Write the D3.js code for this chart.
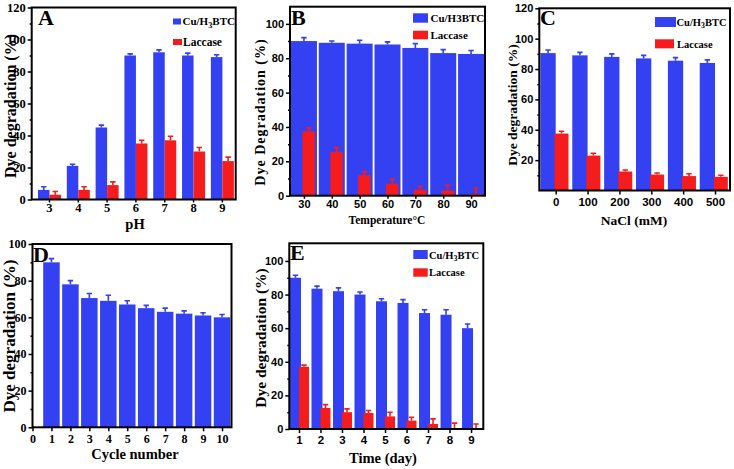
<!DOCTYPE html>
<html><head><meta charset="utf-8">
<script src="https://cdn.jsdelivr.net/npm/d3@7"></script>
<style>body{margin:0;background:#fff}svg{display:block}</style>
</head><body><svg id="c" width="734" height="469"></svg>
<script>
// ---- data ----
const phCats = [3,4,5,6,7,8,9];
const phCu = [6,21,45,90,92,90,89];
const phCuErr = [2,1,1.5,1,1.5,1.5,1.5];
const phLac = [3,6,9,35,37,30,24];
const phLacErr = [2,2,2,2,2.5,2.5,2.5];

const tempCats = [30,40,50,60,70,80,90];
const tempCu = [90,89,88.5,88,86,83,82.5];
const tempCuErr = [2,1,2,1.5,2.5,2,2];
const tempLac = [37.5,25.5,12,7,3.5,3,1];
const tempLacErr = [2,2.5,2,2.5,2,3,3.5];

const naclCats = [0,100,200,300,400,500];
const naclCu = [90.5,89,88,87,85.5,84];
const naclCuErr = [2,2,2,2,2,2];
const naclLac = [37.5,23,12.5,10.5,9.5,9];
const naclLacErr = [1.5,1.5,1,1,1.5,1];

const cycleCats = [1,2,3,4,5,6,7,8,9,10];
const cycleTicks = [0,1,2,3,4,5,6,7,8,9,10];
const cycleCu = [90,78,70.5,69,67,65,63,62,61,60];
const cycleCuErr = [2,2,2.5,3,2,1.5,2,1.5,1.5,1.5];

const dayCats = [1,2,3,4,5,6,7,8,9];
const dayCu = [90,83.5,82,80,76,75,69,68,60];
const dayCuErr = [1.5,1.5,2,1.5,1.5,2,2,3,2.5];
const dayLac = [37,12.5,10,9.5,7.5,5,3,0.5,0.5];
const dayLacErr = [1,2,2,1.5,2.5,2,3,3,2.5];

const yTicks120 = [0,20,40,60,80,100,120];
const yTicks120NoZero = [20,40,60,80,100,120];
const yTicks100 = [0,20,40,60,80,100];
const yMinor120 = [10,30,50,70,90,110];
const yMinor100 = [10,30,50,70,90];

const BLUE = "#3341f2", RED = "#f41c1c";
const SERIF = "'Liberation Serif','Times New Roman',serif";
const SANS = "'Liberation Sans',Arial,sans-serif";
const svg = d3.select("#c");

function panel(o){
  const g = svg.append("g");
  const x = d3.scaleLinear().domain(o.xDom).range([o.l,o.r]);
  const y = d3.scaleLinear().domain(o.yDom).range([o.b,o.t]);
  o.series.forEach(s=>{
    const data = o.cats.map((c,i)=>({c, v:s.vals[i], e:s.errs[i]}));
    const sg = g.append("g");
    sg.selectAll("rect").data(data).join("rect")
      .attr("x", d=>x(d.c)+s.dx).attr("width", s.w)
      .attr("y", d=>y(d.v)).attr("height", d=>y(0)-y(d.v))
      .attr("fill", s.color);
    sg.selectAll("path").data(data).join("path")
      .attr("d", d=>{const cx=x(d.c)+s.dx+s.w/2, y0=y(d.v), y1=y(d.v+d.e);
        return `M${cx},${y0}V${y1}M${cx-2.7},${y1}H${cx+2.7}`;})
      .attr("stroke", s.color).attr("stroke-width",1.6).attr("fill","none");
  });
  // axes
  const ya = g.append("g").attr("transform",`translate(${o.l},0)`)
    .call(d3.axisLeft(y).tickValues(o.yTicks).tickSize(4).tickPadding(2));
  const ym = g.append("g").attr("transform",`translate(${o.l},0)`)
    .call(d3.axisLeft(y).tickValues(o.yMinor).tickSize(2).tickFormat(""));
  const xa = g.append("g").attr("transform",`translate(0,${o.b})`)
    .call(d3.axisBottom(x).tickValues(o.xTicks).tickSize(o.xTickLen||4).tickPadding(o.xTickPad||3));
  [ya,ym,xa].forEach(a=>{
    a.select(".domain").remove();
    a.selectAll("line").attr("stroke","#000").attr("stroke-width",1.5);
  });
  ya.selectAll("text").attr("font-family",o.tickFont).attr("font-weight","bold")
    .attr("font-size",o.yTickSize).attr("fill","#000");
  xa.selectAll("text").attr("font-family",o.tickFont).attr("font-weight","bold")
    .attr("font-size",o.xTickSize).attr("fill","#000");
  // frame
  g.append("rect").attr("x",o.l).attr("y",o.t).attr("width",o.r-o.l).attr("height",o.b-o.t)
    .attr("fill","none").attr("stroke","#000").attr("stroke-width",2);
  // titles
  g.append("text").attr("transform",`translate(${o.ytx},${o.yty}) rotate(-90)`)
    .attr("text-anchor","middle").attr("dominant-baseline","central")
    .attr("font-family",SERIF).attr("font-weight","bold").attr("font-size",o.ytSize)
    .attr("letter-spacing",o.ytSpacing||0).text(o.yTitle);
  g.append("text").attr("x",o.xtx).attr("y",o.xty).attr("text-anchor","middle")
    .attr("font-family",SERIF).attr("font-weight","bold").attr("font-size",o.xtSize).text(o.xTitle);
  // letter
  g.append("text").attr("x",o.lx).attr("y",o.ly).attr("font-family",SERIF)
    .attr("font-weight","bold").attr("font-size",22).text(o.letter);
  // legend
  (o.legend||[]).forEach(it=>{
    g.append("rect").attr("x",it.rx).attr("y",it.ry).attr("width",it.rw).attr("height",it.rh).attr("fill",it.color);
    const t = g.append("text").attr("x",it.tx).attr("y",it.ty).attr("font-family",SERIF)
      .attr("font-weight","bold").attr("font-size",it.size);
    if(it.sub){
      t.append("tspan").text("Cu/H");
      t.append("tspan").attr("dy",it.sub).attr("font-size",it.size*0.75).text("3");
      t.append("tspan").attr("dy",-it.sub).text("BTC");
    } else t.text(it.text);
  });
}

// Panel A
panel({l:31.7,r:235.7,t:7.5,b:199.5,xDom:[2.4,9.48],yDom:[0,120],cats:phCats,xTicks:phCats,
  yTicks:yTicks120,yMinor:yMinor120,tickFont:SERIF,yTickSize:12.5,xTickSize:12.5,xTickLen:3,xTickPad:1,
  series:[{vals:phCu,errs:phCuErr,color:BLUE,dx:-11,w:11.5},{vals:phLac,errs:phLacErr,color:RED,dx:0.5,w:11.5}],
  yTitle:"Dye degradation (%)",ytx:10,yty:106,ytSize:16,xTitle:"pH",xtx:135,xty:229,xtSize:14.5,
  letter:"A",lx:38,ly:25,
  legend:[{color:BLUE,rx:173,ry:18.5,rw:8,rh:6,tx:182.5,ty:25,size:11,sub:3},
          {color:RED,rx:173,ry:39,rw:9,rh:6,tx:183,ty:45.5,size:11.5,text:"Laccase"}]});

// Panel B
panel({l:290,r:485,t:6.7,b:195.7,xDom:[25,95],yDom:[0,110],cats:tempCats,xTicks:tempCats,
  yTicks:yTicks100,yMinor:yMinor100,tickFont:SANS,yTickSize:11,xTickSize:11,xTickLen:3,xTickPad:2,
  series:[{vals:tempCu,errs:tempCuErr,color:BLUE,dx:-13,w:26},{vals:tempLac,errs:tempLacErr,color:RED,dx:-1.5,w:12.5}],
  yTitle:"Dye Degradation (%)",ytx:260,yty:112,ytSize:14,ytSpacing:1,xTitle:"Temperature°C",xtx:387,xty:224,xtSize:11.5,
  letter:"B",lx:291,ly:25,
  legend:[{color:BLUE,rx:413,ry:13.3,rw:15,rh:9.4,tx:430.5,ty:22,size:11,text:"Cu/H3BTC"},
          {color:RED,rx:413,ry:30.7,rw:15,rh:8.6,tx:430.5,ty:39,size:11,text:"Laccase"}]});

// Panel C
panel({l:539.3,r:730,t:8.3,b:190.5,xDom:[-51.5,547],yDom:[0,120],cats:naclCats,xTicks:naclCats,
  yTicks:yTicks120NoZero,yMinor:yMinor120,tickFont:SANS,yTickSize:11,xTickSize:11.5,
  series:[{vals:naclCu,errs:naclCuErr,color:BLUE,dx:-15.3,w:15.3},{vals:naclLac,errs:naclLacErr,color:RED,dx:-1.2,w:14}],
  yTitle:"Dye degradation (%)",ytx:512,yty:105,ytSize:13.5,xTitle:"NaCl (mM)",xtx:634,xty:225,xtSize:13.5,
  letter:"C",lx:540,ly:25,
  legend:[{color:BLUE,rx:655,ry:17,rw:21,rh:10,tx:676.5,ty:25.5,size:10.5,sub:2},
          {color:RED,rx:655,ry:39.3,rw:19,rh:9,tx:677,ty:47.5,size:10.5,text:"Laccase"}]});

// Panel D
panel({l:32.5,r:231.5,t:244,b:427.3,xDom:[0,10.5],yDom:[0,100],cats:cycleCats,xTicks:cycleTicks,
  yTicks:yTicks100,yMinor:yMinor100,tickFont:SERIF,yTickSize:12,xTickSize:12,
  series:[{vals:cycleCu,errs:cycleCuErr,color:BLUE,dx:-8.25,w:16.5}],
  yTitle:"Dye degradation (%)",ytx:9,yty:336,ytSize:17,xTitle:"Cycle number",xtx:135,xty:459,xtSize:14.5,
  letter:"D",lx:33,ly:262});

// Panel E
panel({l:289.3,r:483.3,t:243.3,b:429,xDom:[0.55,9.57],yDom:[0,110.5],cats:dayCats,xTicks:dayCats,
  yTicks:yTicks100,yMinor:yMinor100,tickFont:SANS,yTickSize:11,xTickSize:11.5,
  series:[{vals:dayCu,errs:dayCuErr,color:BLUE,dx:-9,w:11},{vals:dayLac,errs:dayLacErr,color:RED,dx:0,w:10}],
  yTitle:"Dye degradation (%)",ytx:260,yty:338,ytSize:15.5,xTitle:"Time (day)",xtx:383,xty:463,xtSize:14.5,
  letter:"E",lx:290,ly:260,
  legend:[{color:BLUE,rx:413.3,ry:250,rw:14.4,rh:9,tx:429,ty:258.5,size:10.5,sub:2},
          {color:RED,rx:413.3,ry:268.3,rw:14.4,rh:8.4,tx:429,ty:276,size:10.5,text:"Laccase"}]});
</script>
</body></html>
